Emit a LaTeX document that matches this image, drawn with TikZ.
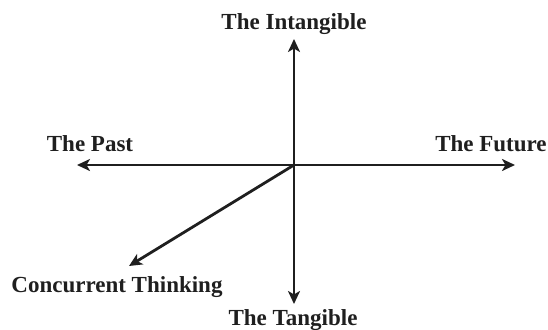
\documentclass[tikz,border=0pt]{standalone}
\usepackage{fontspec}
\setmainfont{Liberation Serif}
\usetikzlibrary{arrows.meta}
\begin{document}
\begin{tikzpicture}[x=1pt,y=-1pt,
  axis/.style={line width=2.8pt,draw=black!88,-{Stealth[length=13pt,width=12pt,inset=3.5pt]}},
  lbl/.style={font=\fontsize{23}{25}\selectfont\bfseries,text=black!88,inner sep=0pt}]
\useasboundingbox (0,0) rectangle (548,329);
\coordinate (O) at (294,165);
\coordinate (T) at (294,39);
\coordinate (B) at (294,304);
\coordinate (L) at (77,165);
\coordinate (R) at (515,165);
\coordinate (D) at (129,266);
\draw[axis] (O) -- (T);
\draw[axis] (O) -- (B);
\draw[axis] (O) -- (L);
\draw[axis] (O) -- (R);
\draw[axis] (O) -- (D);
\node[lbl] (intang) at (294,24) {The Intangible};
\node[lbl] (past) at (90,144) {The Past};
\node[lbl] (future) at (491,144) {The Future};
\node[lbl] (conc) at (117,287) {Concurrent Thinking};
\node[lbl] (tang) at (293,320) {The Tangible};
\end{tikzpicture}
\end{document}
